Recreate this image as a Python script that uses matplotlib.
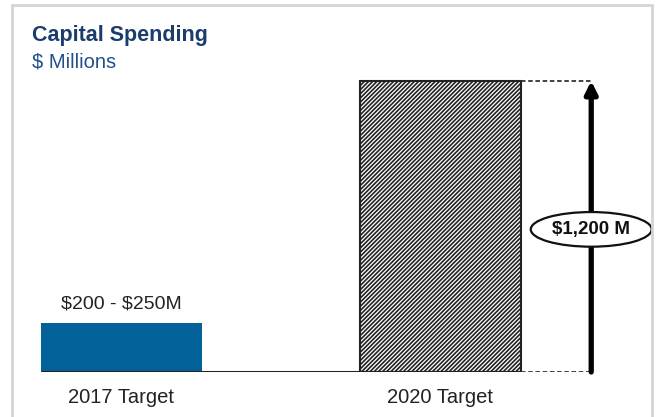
import numpy as np
import matplotlib
matplotlib.use('Agg')
import matplotlib.pyplot as plt
from matplotlib import rcParams
from matplotlib.patches import Rectangle

rcParams['font.family'] = ['Liberation Sans', 'DejaVu Sans']
rcParams['hatch.linewidth'] = 1.2
rcParams['text.parse_math'] = False

# Data
categories = ['2017 Target', '2020 Target']
range_2017 = [200, 250]          # $M, low / high
target_2020 = 1200               # $M
values = [range_2017[0], target_2020]
bar_label_2017 = '$200 - $250M'
bar_label_2020 = '$1,200 M'

NAVY = '#1b3d6e'
SUB_BLUE = '#23508a'
BAR_BLUE = '#03619a'

fig = plt.figure(figsize=(6.56, 4.17), dpi=100)
W, H = 656, 417

# Panel frame
frame = Rectangle((12 / W, -0.05), 640 / W, (412 / H) + 0.05, transform=fig.transFigure,
                  fill=False, edgecolor='#d4d4d4', linewidth=2.0, zorder=0)
fig.patches.append(frame)

ax = fig.add_axes([12 / W, 45 / H, 640 / W, 367 / H])
ax.set_xlim(-0.343, 1.663)
ax.set_ylim(0, 1513)
ax.axis('off')

x = np.arange(len(categories))
width = 0.505

ax.bar(x[0], values[0], width=width, color=BAR_BLUE, edgecolor='none', zorder=2)
ax.bar(x[1], values[1], width=width, color='white', edgecolor='#222222',
       hatch='////////', linewidth=1.5, zorder=2)

# Baseline
ax.hlines(0, x[0] - width / 2, x[1] + width / 2, color='#222222', linewidth=2.2, zorder=3)

# Labels
ax.text(x[0], values[0] + 45, bar_label_2017, ha='center', va='bottom',
        fontsize=14, color='#222222')
for xi, cat in zip(x, categories):
    ax.text(xi, -105, cat, ha='center', va='center', fontsize=14.5, color='#222222')

# Dimension arrow next to the 2020 bar
arrow_x = x[1] + width / 2 + 0.22
for yv in (0, target_2020):
    ax.plot([x[1] + width / 2, arrow_x], [yv, yv], color='#333333',
            linewidth=1.3, linestyle=(0, (2.5, 1.5)), zorder=2)
ax.annotate('', xy=(arrow_x, target_2020), xytext=(arrow_x, 0),
            arrowprops=dict(arrowstyle='-|>', color='black', lw=3.8,
                            mutation_scale=18, shrinkA=0, shrinkB=0), zorder=3)
ax.text(arrow_x, target_2020 * 0.49, bar_label_2020, ha='center', va='center',
        fontsize=13.5, fontweight='bold', color='#111111', zorder=4,
        bbox=dict(boxstyle='ellipse,pad=0.2', facecolor='white',
                  edgecolor='#111111', linewidth=1.6))

# Title block
fig.text(32 / W, 1 - 35 / H, 'Capital Spending', fontsize=15.5, fontweight='bold',
         color=NAVY, ha='left', va='center')
fig.text(32 / W, 1 - 62 / H, '$ Millions', fontsize=14.5, color=SUB_BLUE,
         ha='left', va='center')

fig.savefig('out.png', dpi=100)
